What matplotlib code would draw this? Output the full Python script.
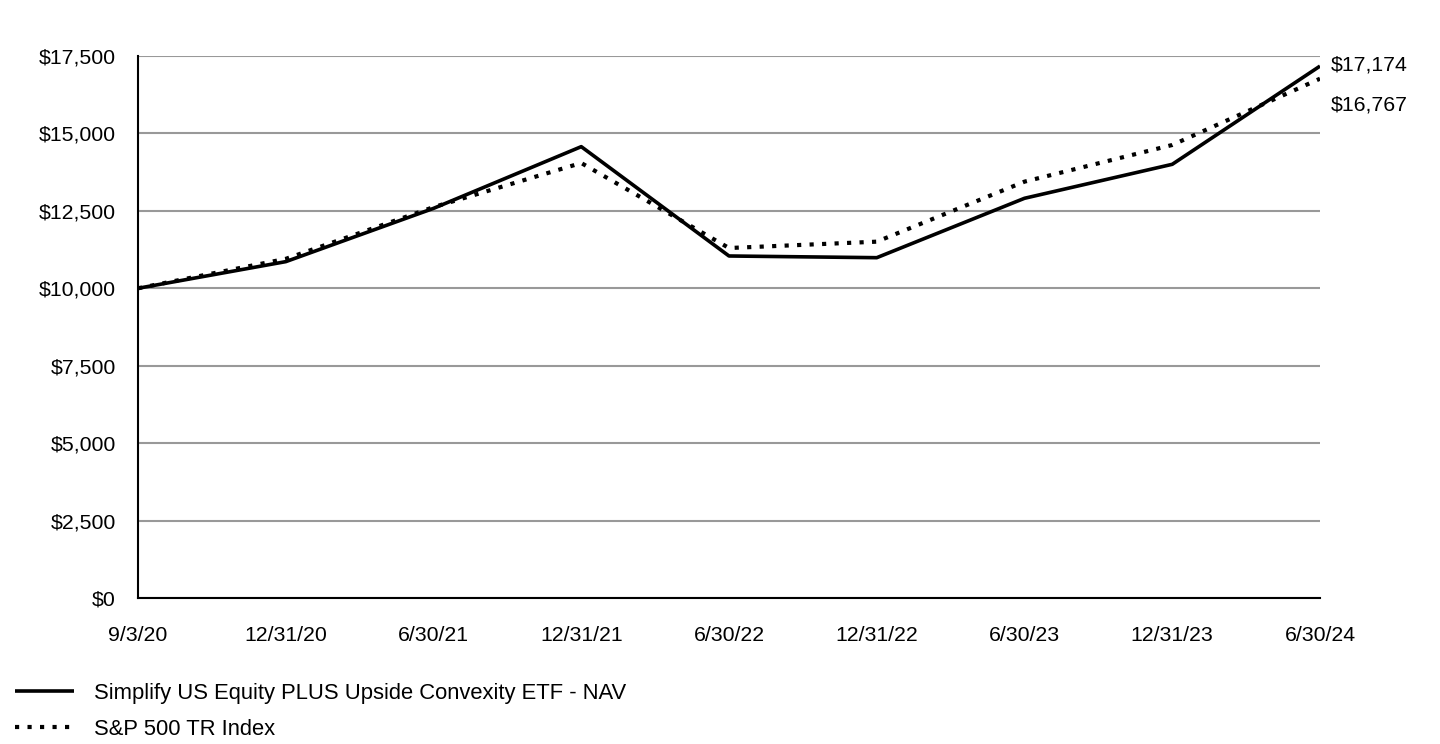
import matplotlib
matplotlib.use("Agg")
import matplotlib.pyplot as plt
from matplotlib.ticker import FuncFormatter

plt.rcParams['font.family'] = ['Liberation Sans', 'DejaVu Sans']

dates = ["9/3/20", "12/31/20", "6/30/21", "12/31/21", "6/30/22",
         "12/31/22", "6/30/23", "12/31/23", "6/30/24"]
nav = [10000, 10860, 12580, 14573, 11043, 10988, 12906, 14003, 17174]
sp500 = [10000, 10950, 12620, 14045, 11300, 11505, 13443, 14627, 16767]
nav_label = "Simplify US Equity PLUS Upside Convexity ETF - NAV"
sp_label = "S&P 500 TR Index"
yticks = [0, 2500, 5000, 7500, 10000, 12500, 15000, 17500]

FS = 15.3
fig = plt.figure(figsize=(14.4, 7.44), dpi=100)
ax = fig.add_axes([138/1440, 1-598/744, (1320-138)/1440, (598-56)/744])

x = list(range(len(dates)))
l1, = ax.plot(x, nav, color='black', lw=2.6, solid_capstyle='butt', label=nav_label)
l2, = ax.plot(x, sp500, color='black', lw=3.0, linestyle=(0, (1.0, 2.0)),
              dash_capstyle='butt', label=sp_label)

ax.set_xlim(0, len(dates)-1)
ax.set_ylim(0, 17500)
ax.set_yticks(yticks)
ax.yaxis.set_major_formatter(FuncFormatter(lambda v, p: f"${v:,.0f}"))
ax.set_xticks(x)
ax.set_xticklabels(dates)
ax.grid(axis='y', color='#999999', lw=1.5)
ax.set_axisbelow(True)
for s in ['top', 'right']:
    ax.spines[s].set_visible(False)
for s in ['left', 'bottom']:
    ax.spines[s].set_linewidth(1.5)
    ax.spines[s].set_color('black')
ax.tick_params(axis='both', length=0, labelsize=FS)
ax.tick_params(axis='y', pad=16)
ax.tick_params(axis='x', pad=20)

for vals, dy in ((nav, 1), (sp500, -26)):
    ax.annotate(f"${vals[-1]:,.0f}", xy=(x[-1], vals[-1]), xytext=(11, dy),
                textcoords='offset pixels', ha='left', va='center', fontsize=FS)

fig.legend(handles=[l1, l2], loc='lower left', bbox_to_anchor=(-0.0035, -0.021),
           frameon=False, fontsize=15.8, handlelength=2.7, handletextpad=0.9,
           labelspacing=0.68)

fig.savefig("out.png", dpi=100)
